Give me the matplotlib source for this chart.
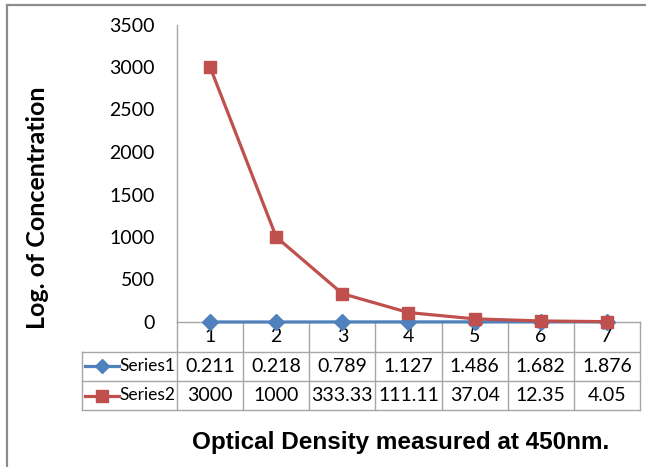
import matplotlib
matplotlib.use("Agg")
import matplotlib.pyplot as plt
import matplotlib.transforms as mtransforms
from matplotlib.lines import Line2D

# data
categories = [1, 2, 3, 4, 5, 6, 7]
series1 = [0.211, 0.218, 0.789, 1.127, 1.486, 1.682, 1.876]
series2 = [3000, 1000, 333.33, 111.11, 37.04, 12.35, 4.05]
series1_labels = ["0.211", "0.218", "0.789", "1.127", "1.486", "1.682", "1.876"]
series2_labels = ["3000", "1000", "333.33", "111.11", "37.04", "12.35", "4.05"]
series_names = ["Series1", "Series2"]
yticks = [0, 500, 1000, 1500, 2000, 2500, 3000, 3500]

blue = "#4F81BD"
red = "#C0504D"
grid_col = "#A6A6A6"
body_font = ["Lato", "DejaVu Sans"]

W, H = 646, 467
fig = plt.figure(figsize=(W / 100, H / 100), dpi=100)

# outer chart border (only left and top visible in the crop)
fig.add_artist(Line2D([7 / W, 7 / W], [0, 1 - 5 / H], color="#8c8c8c", lw=1.6))
fig.add_artist(Line2D([7 / W, 1], [1 - 5 / H, 1 - 5 / H], color="#8c8c8c", lw=1.6))

ax_l, ax_r, ax_t, ax_b = 177, 640, 24.5, 322
ax = fig.add_axes([ax_l / W, 1 - ax_b / H, (ax_r - ax_l) / W, (ax_b - ax_t) / H])

ax.plot(categories, series1, color=blue, lw=2.3, marker="D", ms=8.5,
        mfc=blue, mec=blue, zorder=4, clip_on=False)
ax.plot(categories, series2, color=red, lw=2.3, marker="s", ms=9,
        mfc=red, mec=red, zorder=5, clip_on=False)

ax.set_xlim(0.5, 7.5)
ax.set_ylim(0, 3500)
ax.set_yticks(yticks)
ax.set_yticklabels([str(v) for v in yticks], fontsize=14, family=body_font)
ax.tick_params(axis="y", length=0, pad=16)
ax.set_xticks([])
for s in ["top", "right"]:
    ax.spines[s].set_visible(False)
ax.spines["left"].set_color(grid_col)
ax.spines["bottom"].set_color(grid_col)
ax.spines["left"].set_linewidth(1)
ax.spines["bottom"].set_linewidth(1)

# data table below the plot
blend = mtransforms.blended_transform_factory(ax.transData, ax.transAxes)
ph = ax_b - ax_t
def ay(py):
    return (ax_b - py) / ph
def axx(px):
    return (px - ax_l) / (ax_r - ax_l)

hdr_b, row1_b, row2_b = 351.7, 381, 410
tbl_left = axx(81.7)

# vertical lines in header + data rows
for c in categories:
    x = c + 0.5
    ax.add_line(Line2D([x, x], [ay(ax_b), ay(row2_b)], transform=blend,
                       color=grid_col, lw=1, clip_on=False))
ax.add_line(Line2D([0.5, 0.5], [ay(ax_b), ay(row2_b)], transform=blend,
                   color=grid_col, lw=1, clip_on=False))
for py in [hdr_b, row1_b, row2_b]:
    ax.add_line(Line2D([tbl_left, 1], [ay(py), ay(py)], transform=ax.transAxes,
                       color=grid_col, lw=1, clip_on=False))
ax.add_line(Line2D([tbl_left, tbl_left], [ay(hdr_b), ay(row2_b)], transform=ax.transAxes,
                   color=grid_col, lw=1, clip_on=False))

for c in categories:
    ax.text(c, ay(337), str(c), transform=blend, ha="center", va="center",
            fontsize=14, family=body_font)

rows = [(series1_labels, blue, "D", 7, (hdr_b + row1_b) / 2),
        (series2_labels, red, "s", 8, (row1_b + row2_b) / 2)]
for name, (labels, col, mk, ms, cy) in zip(series_names, rows):
    for c, lab in zip(categories, labels):
        ax.text(c, ay(cy), lab, transform=blend, ha="center", va="center",
                fontsize=14, family=body_font)
    ax.add_line(Line2D([axx(85), axx(119)], [ay(cy), ay(cy)], transform=ax.transAxes,
                       color=col, lw=2.3, clip_on=False))
    ax.add_line(Line2D([axx(102)], [ay(cy)], transform=ax.transAxes, marker=mk,
                       ms=ms, color=col, clip_on=False))
    ax.text(axx(119.5), ay(cy), name, transform=ax.transAxes, ha="left", va="center",
            fontsize=12.5, family=body_font)

# axis titles
fig.text(38 / W, 1 - 208 / H, "Log. of Concentration", rotation=90,
         ha="center", va="center", fontsize=18, fontweight="bold", family=body_font)
fig.text(401 / W, 1 - 443 / H, "Optical Density measured at 450nm.",
         ha="center", va="center", fontsize=17.5, fontweight="bold",
         family=["Liberation Sans", "DejaVu Sans"])

fig.savefig("out.png", dpi=100)
